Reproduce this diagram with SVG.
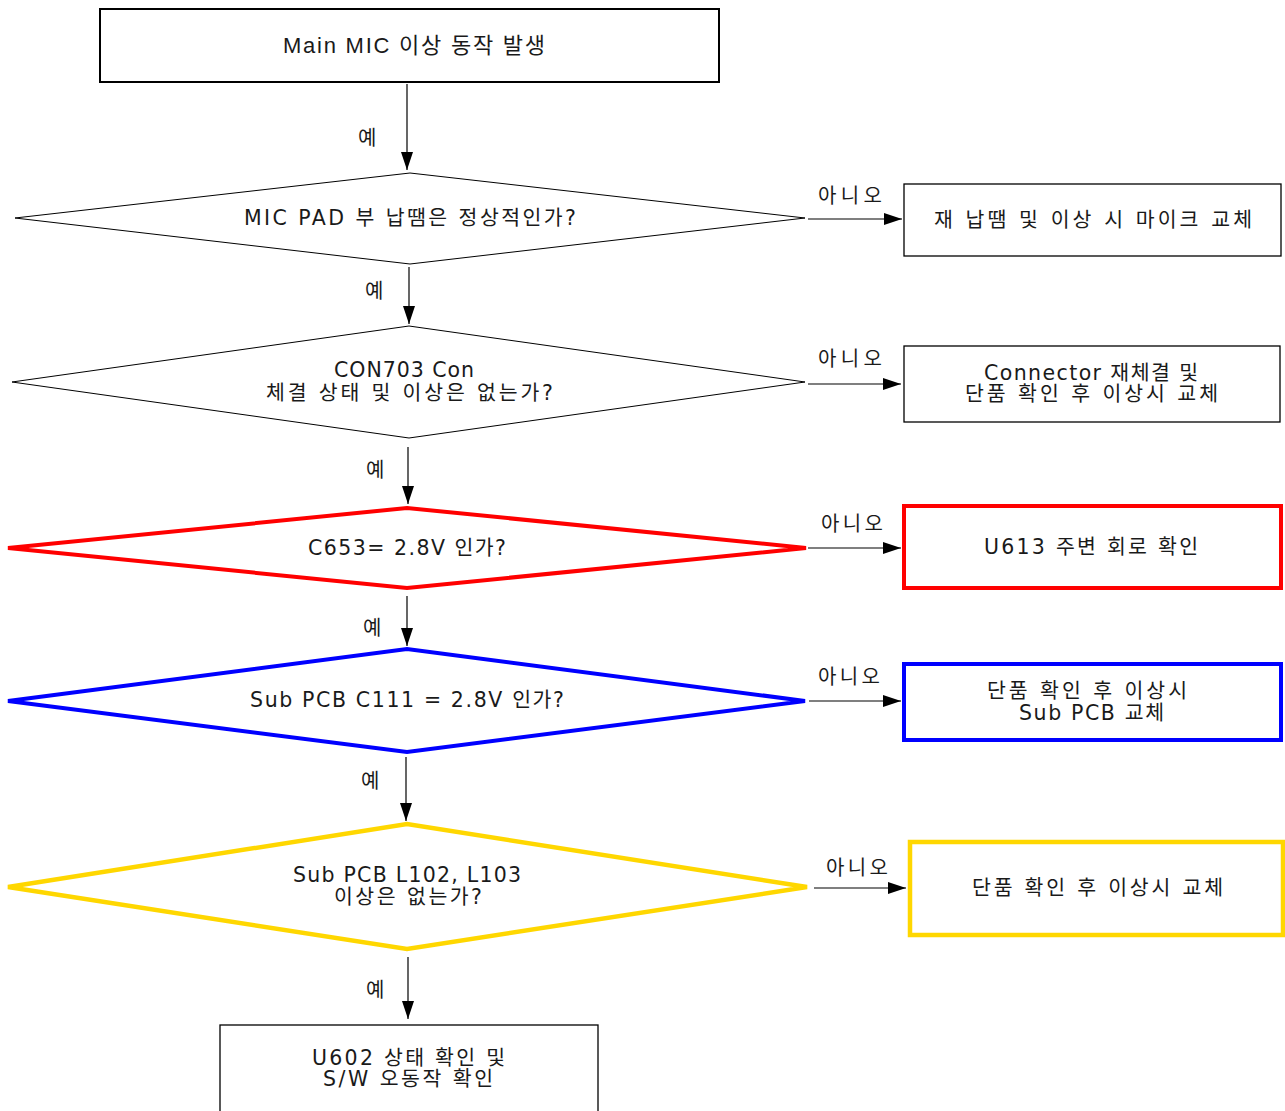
<svg xmlns="http://www.w3.org/2000/svg" width="1285" height="1111" viewBox="0 0 1285 1111">
<style>
.t{font-family:"DejaVu Sans","Noto Sans CJK KR",sans-serif;font-size:20.5px;fill:#1a1a1a}
.tt{font-family:"Liberation Sans","Noto Sans CJK KR",sans-serif;font-size:22px;fill:#1a1a1a}
.lb{font-family:"Noto Sans CJK KR",sans-serif;font-size:20px;fill:#1a1a1a}
.ln{stroke:#000;stroke-width:1.2;fill:none;marker-end:url(#ah)}
.bx{fill:#fff;stroke:#000;stroke-width:1.3}
.dm{fill:#fff;stroke:#000;stroke-width:1}
</style>
<defs>
<marker id="ah" markerUnits="userSpaceOnUse" markerWidth="18" markerHeight="12" refX="18" refY="6" orient="auto">
<path d="M0,0 L18,6 L0,12 z" fill="#000"/>
</marker>
</defs>
<rect width="1285" height="1111" fill="#fff"/>

<g id="connectors">
<line class="ln" x1="407" y1="84" x2="407" y2="170"/>
<line class="ln" x1="409" y1="267" x2="409" y2="324"/>
<line class="ln" x1="408" y1="447" x2="408" y2="504"/>
<line class="ln" x1="407" y1="596" x2="407" y2="646"/>
<line class="ln" x1="406" y1="757" x2="406" y2="821"/>
<line class="ln" x1="408" y1="957" x2="408" y2="1019"/>
<line class="ln" x1="808" y1="219" x2="902" y2="219"/>
<line class="ln" x1="808" y1="384" x2="901" y2="384"/>
<line class="ln" x1="808" y1="548" x2="901" y2="548"/>
<line class="ln" x1="809" y1="701" x2="901" y2="701"/>
<line class="ln" x1="814" y1="888" x2="906" y2="888"/>
<text class="lb" x="358" y="145">예</text>
<text class="lb" x="365" y="298">예</text>
<text class="lb" x="366" y="477">예</text>
<text class="lb" x="363" y="635">예</text>
<text class="lb" x="361" y="788">예</text>
<text class="lb" x="366" y="997">예</text>
<text class="lb" x="818" y="203" textLength="64" lengthAdjust="spacing">아니오</text>
<text class="lb" x="818" y="366" textLength="64" lengthAdjust="spacing">아니오</text>
<text class="lb" x="821" y="531" textLength="62" lengthAdjust="spacing">아니오</text>
<text class="lb" x="818" y="684" textLength="62" lengthAdjust="spacing">아니오</text>
<text class="lb" x="826" y="875" textLength="62" lengthAdjust="spacing">아니오</text>
</g>

<g id="start">
<rect x="100" y="9" width="619" height="73" fill="#fff" stroke="#000" stroke-width="2"/>
<text class="tt" x="283" y="53" textLength="262" lengthAdjust="spacing">Main MIC 이상 동작 발생</text>
</g>

<g id="d1">
<polygon class="dm" points="15,218 410,173 805,218 410,264"/>
<text class="t" x="244" y="225" textLength="332" lengthAdjust="spacing">MIC PAD 부 납땜은 정상적인가?</text>
</g>
<g id="b1">
<rect class="bx" x="904" y="184" width="377" height="72"/>
<text class="t" x="934" y="227" textLength="318" lengthAdjust="spacing">재 납땜 및 이상 시 마이크 교체</text>
</g>

<g id="d2">
<polygon class="dm" points="12,382 409,326 805,382 409,438"/>
<text class="t" x="334" y="377" textLength="140" lengthAdjust="spacing">CON703 Con</text>
<text class="t" x="266" y="400" textLength="287" lengthAdjust="spacing">체결 상태 및 이상은 없는가?</text>
</g>
<g id="b2">
<rect class="bx" x="904" y="346" width="376" height="76"/>
<text class="t" x="984" y="380" textLength="214" lengthAdjust="spacing">Connector 재체결 및</text>
<text class="t" x="965" y="401" textLength="253" lengthAdjust="spacing">단품 확인 후 이상시 교체</text>
</g>

<g id="d3">
<polygon points="8,548 407,508 806,548 407,588" fill="#fff" stroke="#ff0000" stroke-width="4"/>
<text class="t" x="308" y="555" textLength="198" lengthAdjust="spacing">C653= 2.8V 인가?</text>
</g>
<g id="b3">
<rect x="904" y="506" width="377" height="82" fill="#fff" stroke="#ff0000" stroke-width="4"/>
<text class="t" x="984" y="554" textLength="214" lengthAdjust="spacing">U613 주변 회로 확인</text>
</g>

<g id="d4">
<polygon points="8,701 407,649 805,701 407,752" fill="#fff" stroke="#0000ff" stroke-width="4"/>
<text class="t" x="250" y="707" textLength="314" lengthAdjust="spacing">Sub PCB C111 = 2.8V 인가?</text>
</g>
<g id="b4">
<rect x="904" y="664" width="377" height="76" fill="#fff" stroke="#0000ff" stroke-width="4"/>
<text class="t" x="987" y="698" textLength="200" lengthAdjust="spacing">단품 확인 후 이상시</text>
<text class="t" x="1019" y="720" textLength="145" lengthAdjust="spacing">Sub PCB 교체</text>
</g>

<g id="d5">
<polygon points="8,887 407,824 807,887 407,949" fill="#fff" stroke="#ffd700" stroke-width="4.5"/>
<text class="t" x="293" y="882" textLength="228" lengthAdjust="spacing">Sub PCB L102, L103</text>
<text class="t" x="334" y="904" textLength="148" lengthAdjust="spacing">이상은 없는가?</text>
</g>
<g id="b5">
<rect x="910" y="842" width="373" height="93" fill="#fff" stroke="#ffd700" stroke-width="4.5"/>
<text class="t" x="972" y="895" textLength="251" lengthAdjust="spacing">단품 확인 후 이상시 교체</text>
</g>

<g id="end">
<rect class="bx" x="220" y="1025" width="378" height="100"/>
<text class="t" x="312" y="1065" textLength="193" lengthAdjust="spacing">U602 상태 확인 및</text>
<text class="t" x="323" y="1086" textLength="170" lengthAdjust="spacing">S/W 오동작 확인</text>
</g>
</svg>
